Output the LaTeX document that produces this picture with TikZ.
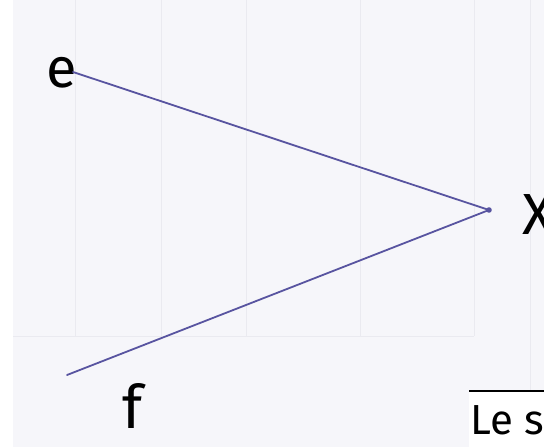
\documentclass[tikz,border=0pt]{standalone}
\usepackage{fontspec}
\setmainfont{Fira Sans}
\definecolor{paper}{RGB}{246,246,250}
\definecolor{ink}{RGB}{88,84,160}
\definecolor{faint}{RGB}{234,234,240}
\begin{document}
\begin{tikzpicture}[x=1pt,y=-1pt,
  lbl/.style={inner sep=0pt, text=black},
  conn/.style={draw=ink, line width=1.8pt, line cap=round},
  tline/.style={draw=faint, line width=0.8pt}]
\useasboundingbox (0,0) rectangle (544,447);
\fill[paper] (0,0) rectangle (544,447);
\fill[white] (0,0) rectangle (13,447);
% faint table rules of the scanned background
\draw[tline] (75,0) -- (75,336);
\draw[tline] (161,0) -- (161,336);
\draw[tline] (246,0) -- (246,336);
\draw[tline] (360,0) -- (360,336);
\draw[tline] (474,0) -- (474,336);
\draw[tline] (13,336) -- (474,336);
\draw[tline] (530,0) -- (530,390);
% white box with rule
\fill[white] (469,392) rectangle (544,447);
\draw[black, line width=1.2pt] (469,391) -- (544,391);
% labels
\node[lbl, font=\fontsize{56}{56}\selectfont, anchor=base] (e) at (62,87) {e};
\node[lbl, font=\fontsize{60}{60}\selectfont, anchor=base] (f) at (133,428) {f};
\node[lbl, font=\fontsize{58}{58}\selectfont, anchor=base west] (X) at (522,234) {X};
\node[lbl, font=\fontsize{42}{42}\selectfont, anchor=base west] (le) at (470,434) {Le s};
% connectors
\coordinate (estart) at (73,72);
\coordinate (fstart) at (67,375);
\coordinate (p) at (489,210);
\draw[conn] (estart) -- (p);
\draw[conn] (fstart) -- (p);
\fill[ink] (p) circle (2.8);
\end{tikzpicture}
\end{document}
